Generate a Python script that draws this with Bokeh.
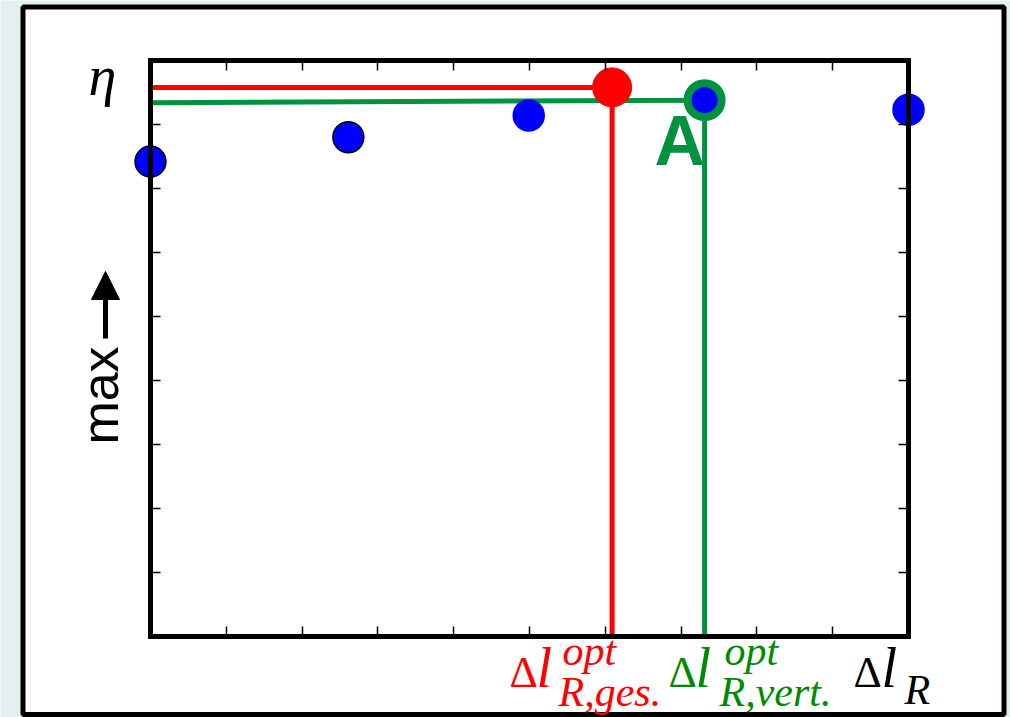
import math
from bokeh.plotting import figure
from bokeh.models import Range1d, LinearAxis, FixedTicker, Label, Arrow, NormalHead, BoxAnnotation
from bokeh.embed import file_html
from bokeh.resources import INLINE

# ---------------- data ----------------
points_x = [0.0, 2.61, 4.99, 7.31, 10.0]
points_y = [7.42, 7.80, 8.14, 8.38, 8.23]
points_outline = ["black", "black", "blue", "blue", "blue"]
opt_ges = [6.09, 8.58]          # red optimum (overall)
opt_vert_idx = 3                # blue point marked "A"
vert_line_start_y = 8.34        # green line start at left axis
x_ticks = [1, 2, 3, 4, 5, 6, 7, 8, 9]
y_ticks = [1, 2, 3, 4, 5, 6, 7, 8]
X0, X1, Y0, Y1 = 0.0, 10.0, 0.0, 9.0

RED = "#ff0000"
GREEN = "#00923f"
GREEN_TXT = "#008a00"
BG = "#e4efef"

# ---------------- layout ----------------
W, H = 1010, 717
BL, BT, BR, BB = 150, 60, 908, 636      # inner box in canvas pixels
SX = (BR - BL) / (X1 - X0)
SY = (BB - BT) / (Y1 - Y0)
SHIFT = 0.385                            # label anchor -> baseline offset (em)


def dx(px):
    return X0 + (px - BL) / SX


def dy(py):
    return Y0 + (BB - py) / SY


def fsz(fs):
    return float(fs.replace("px", ""))


p = figure(width=W, height=H, x_range=Range1d(dx(0), dx(W)), y_range=Range1d(dy(H), dy(0)),
           output_backend="svg", toolbar_location=None, min_border=0,
           x_axis_location=None, y_axis_location=None)
p.background_fill_color = BG
p.border_fill_color = BG
p.grid.visible = False
p.outline_line_color = None

axes = {
    "below": LinearAxis(fixed_location=Y0, ticker=FixedTicker(ticks=x_ticks), bounds=(X0, X1)),
    "above": LinearAxis(fixed_location=Y1, ticker=FixedTicker(ticks=x_ticks), bounds=(X0, X1)),
    "left": LinearAxis(fixed_location=X0, ticker=FixedTicker(ticks=y_ticks), bounds=(Y0, Y1)),
    "right": LinearAxis(fixed_location=X1, ticker=FixedTicker(ticks=y_ticks), bounds=(Y0, Y1)),
}
for side, ax in axes.items():
    ax.axis_line_color = "black"
    ax.axis_line_width = 5
    ax.axis_line_cap = "square"
    ax.major_tick_in = 10
    ax.major_tick_out = 0
    ax.major_tick_line_color = "black"
    ax.major_tick_line_width = 1.5
    ax.minor_tick_line_color = None
    ax.major_label_text_font_size = "0px"
    ax.major_label_text_color = None
    ax.major_label_standoff = 0
    ax.axis_label = None
    p.add_layout(ax, side)

# outer white frame
p.add_layout(BoxAnnotation(left=dx(22.5), right=dx(1003.5), top=dy(6.5), bottom=dy(714),
                           fill_color="white", fill_alpha=1, line_color="black", line_alpha=1,
                           line_width=5, level="underlay"))

ox, oy = points_x[opt_vert_idx], points_y[opt_vert_idx]

# lines
p.line([X0, opt_ges[0]], [opt_ges[1], opt_ges[1]], line_color=RED, line_width=5)
p.line([opt_ges[0], opt_ges[0]], [opt_ges[1], Y0], line_color=RED, line_width=5)
p.line([X0, ox], [vert_line_start_y, oy], line_color=GREEN, line_width=5)
p.line([ox, ox], [oy, Y0], line_color=GREEN, line_width=5)

# points
p.scatter(points_x, points_y, size=31, fill_color="blue", line_color=points_outline, line_width=1.5)
p.scatter([ox], [oy], size=34, fill_color=None, line_color=GREEN, line_width=8)
p.scatter([opt_ges[0]], [opt_ges[1]], size=39, fill_color=RED, line_color=RED)


def add_text(t, px, py, fs, font, style, col, angle=0.0, align="left"):
    off = SHIFT * fsz(fs)
    if angle:
        x, y = dx(px - off), dy(py)
    else:
        x, y = dx(px), dy(py - off)
    p.add_layout(Label(x=x, y=y, text=t, text_font=font, text_font_style=style,
                       text_font_size=fs, text_color=col, angle=angle,
                       text_baseline="alphabetic", text_align=align))


# y label
add_text("η", 88, 97, "56px", "Liberation Serif", "italic", "black")
add_text("max", 120, 395, "52px", "Liberation Sans", "normal", "black",
         angle=math.pi / 2, align="center")
p.add_layout(Arrow(x_start=dx(105), y_start=dy(338), x_end=dx(105), y_end=dy(271),
                   line_width=5, line_color="black",
                   end=NormalHead(size=28, fill_color="black", line_color="black", line_width=1)))

# point label
add_text("A", 654, 167, "70px", "Liberation Sans", "bold", GREEN)

# x labels (composite math-like text)
parts = [
    ("Δ", 509, 689, "44px", "normal", RED), ("l", 536, 689, "56px", "italic", RED),
    ("opt", 562, 667, "42px", "italic", RED), ("R,ges.", 558, 708, "42px", "italic", RED),
    ("Δ", 668, 689, "44px", "normal", GREEN_TXT), ("l", 695, 689, "56px", "italic", GREEN_TXT),
    ("opt", 724, 667, "42px", "italic", GREEN_TXT), ("R,vert.", 719, 708, "42px", "italic", GREEN_TXT),
    ("Δ", 853, 689, "44px", "normal", "black"), ("l", 881, 689, "56px", "italic", "black"),
    ("R", 904, 706, "42px", "italic", "black"),
]
for t, px, py, fs, st, col in parts:
    add_text(t, px, py, fs, "Liberation Serif", st, col)

open("out.html", "w").write(file_html(p, INLINE))
